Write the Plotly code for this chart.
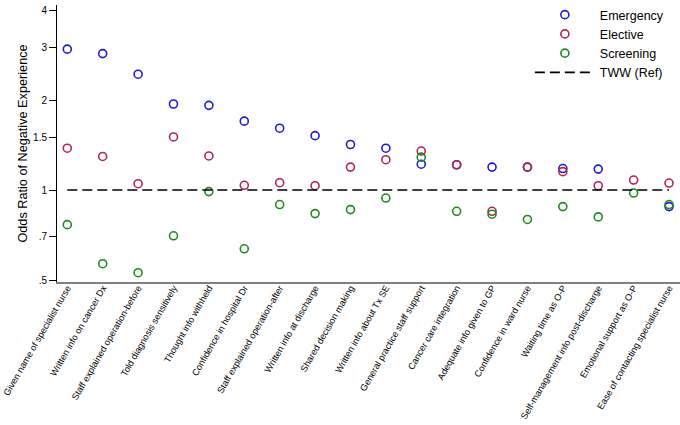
import plotly.graph_objects as go

categories = [
    "Given name of specialist nurse", "Written info on cancer Dx",
    "Staff explained operation-before", "Told diagnosis sensitively",
    "Thought info withheld", "Confidence in hospital Dr",
    "Staff explained operation-after", "Written info at discharge",
    "Shared decision making", "Written info about Tx SE",
    "General practice staff support", "Cancer care integration",
    "Adequate info given to GP", "Confidence in ward nurse",
    "Waiting time as O-P", "Self-management info post-discharge",
    "Emotional support as O-P", "Ease of contacting specialist nurse",
]
emergency = [2.96, 2.86, 2.44, 1.94, 1.92, 1.70, 1.61, 1.52, 1.42, 1.38,
             1.22, 1.215, 1.193, 1.193, 1.18, 1.175, None, 0.88]
elective = [1.38, 1.295, 1.05, 1.505, 1.30, 1.037, 1.058, 1.034, 1.193, 1.263,
            1.35, 1.215, 0.849, 1.193, 1.152, 1.034, 1.08, 1.055]
screening = [0.766, 0.567, 0.529, 0.703, 0.988, 0.636, 0.894, 0.834, 0.86, 0.94,
             1.288, 0.849, 0.83, 0.797, 0.88, 0.813, 0.977, 0.894]
ref_value = 1
y_ticks = [0.5, 0.7, 1, 1.5, 2, 3, 4]
y_ticktext = [".5", ".7", "1", "1.5", "2", "3", "4"]

x = list(range(1, len(categories) + 1))
FONT = "Liberation Sans, Arial, sans-serif"

fig = go.Figure()
series = [("Emergency", emergency, "#1c1cd2"),
          ("Elective", elective, "#b5234f"),
          ("Screening", screening, "#1e8a1e")]
for name, vals, col in series:
    fig.add_trace(go.Scatter(
        x=x, y=vals, mode="markers", name=name,
        marker=dict(symbol="circle-open", size=8, color=col,
                    line=dict(width=1.6, color=col)),
    ))
fig.add_trace(go.Scatter(
    x=[x[0], x[-1]], y=[ref_value, ref_value], mode="lines", name="TWW (Ref)",
    line=dict(color="black", width=1.6, dash="10px,5px"),
))

fig.update_layout(
    width=680, height=425,
    margin=dict(l=57, r=0, t=5, b=143, autoexpand=False),
    paper_bgcolor="white", plot_bgcolor="white",
    font=dict(family=FONT, color="black"),
    showlegend=True,
    legend=dict(x=0.759, y=1.018, xanchor="left", yanchor="top",
                font=dict(size=12.5, family=FONT), bgcolor="rgba(0,0,0,0)",
                itemwidth=60),
    xaxis=dict(
        range=[0.709, 18.31], tickmode="array", tickvals=x, ticktext=categories,
        tickangle=-60, tickfont=dict(size=9.2, family=FONT),
        ticklabeloverflow="allow", ticklabelstandoff=-5,
        showgrid=False, zeroline=False, showline=True, linecolor="#808080",
        linewidth=2, ticks="", automargin=False,
    ),
    yaxis=dict(
        type="log", range=[-0.3077, 0.619], tickmode="array",
        tickvals=y_ticks, ticktext=y_ticktext,
        tickfont=dict(size=10, family=FONT), ticks="outside", ticklen=7,
        ticklabeloverflow="allow",
        tickwidth=1, tickcolor="black", showgrid=False, zeroline=False,
        showline=True, linecolor="black", linewidth=1, automargin=False,
        title=dict(text="Odds Ratio of Negative Experience",
                   font=dict(size=12.7, family=FONT), standoff=2),
    ),
)

# remove the browser's default 8px page margin so the figure fills the window
fig.write_html("out.html", config={"displayModeBar": False},
               post_script="document.body.style.margin='0';")
